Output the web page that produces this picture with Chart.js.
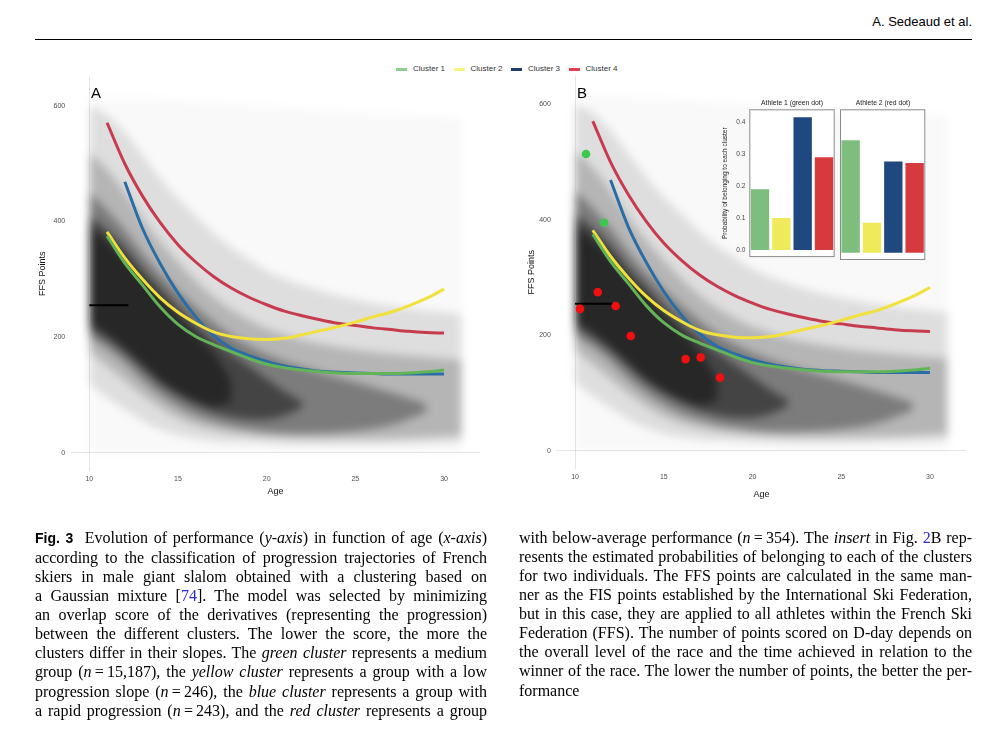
<!DOCTYPE html>
<html>
<head>
<meta charset="utf-8">
<script src="https://cdn.jsdelivr.net/npm/chart.js@4.4.1/dist/chart.umd.min.js"></script>
<style>
  body { margin: 0; width: 996px; height: 743px; background: #fff; position: relative; overflow: hidden;
         font-family: "Liberation Sans", Arial, sans-serif; color: #000; }
  .abs { position: absolute; }
  #runhead { left: 700px; width: 272px; top: 14px; text-align: right; font-size: 13px; }
  #rule { left: 35px; top: 39px; width: 937px; border-top: 1.5px solid #000; }
  .key { position: absolute; top: 68px; width: 11px; height: 3px; }
  .keytxt { position: absolute; top: 64px; font-size: 8px; color: #333; line-height: 10px; }
  .tag { position: absolute; top: 84px; font-size: 15px; }
  .itl { position: absolute; top: 98px; font-size: 6.8px; color: #222; text-align: center; width: 86px; line-height: 10px; }
  canvas { position: absolute; }
  canvas.cloud { filter: blur(4.5px); }
  .cap { position: absolute; top: 528px; font-family: "Liberation Serif", "Times New Roman", serif;
         font-size: 16px; line-height: 19.07px; }
  .cap div { text-align: justify; text-align-last: justify; }
  .cap div.last { text-align-last: left; }
  .fig { font-family: "Liberation Sans", Arial, sans-serif; font-weight: bold; font-size: 14px; }
  .lnk { color: #2b2bd0; }
</style>
</head>
<body>
<div id="runhead" class="abs">A. Sedeaud et al.</div>
<div id="rule" class="abs"></div>

<div id="legend"></div>

<canvas id="cloudA" class="cloud" width="460" height="450" style="left:30px; top:60px"></canvas>
<canvas id="cloudB" class="cloud" width="460" height="450" style="left:516px; top:60px"></canvas>
<canvas id="panelA" width="460" height="450" style="left:30px; top:60px"></canvas>
<canvas id="panelB" width="460" height="450" style="left:516px; top:60px"></canvas>
<canvas id="inset1" width="125" height="170" style="left:715px; top:95px"></canvas>
<canvas id="inset2" width="94" height="170" style="left:836px; top:95px"></canvas>
<div class="itl" style="left:749px">Athlete 1 (green dot)</div>
<div class="itl" style="left:840px">Athlete 2 (red dot)</div>

<div class="tag" style="left:91px">A</div>
<div class="tag" style="left:577px">B</div>

<div class="cap" style="left:35px; width:452px">
  <div><span class="fig">Fig. 3</span>&nbsp; Evolution of performance (<i>y-axis</i>) in function of age (<i>x-axis</i>)</div>
  <div>according to the classification of progression trajectories of French</div>
  <div>skiers in male giant slalom obtained with a clustering based on</div>
  <div>a Gaussian mixture [<span class="lnk">74</span>]. The model was selected by minimizing</div>
  <div>an overlap score of the derivatives (representing the progression)</div>
  <div>between the different clusters. The lower the score, the more the</div>
  <div>clusters differ in their slopes. The <i>green cluster</i> represents a medium</div>
  <div>group (<i>n</i>&thinsp;=&thinsp;15,187), the <i>yellow cluster</i> represents a group with a low</div>
  <div>progression slope (<i>n</i>&thinsp;=&thinsp;246), the <i>blue cluster</i> represents a group with</div>
  <div>a rapid progression (<i>n</i>&thinsp;=&thinsp;243), and the <i>red cluster</i> represents a group</div>
</div>
<div class="cap" style="left:519px; width:453px">
  <div>with below-average performance (<i>n</i>&thinsp;=&thinsp;354). The <i>insert</i> in Fig. <span class="lnk">2</span>B rep-</div>
  <div>resents the estimated probabilities of belonging to each of the clusters</div>
  <div>for two individuals. The FFS points are calculated in the same man-</div>
  <div>ner as the FIS points established by the International Ski Federation,</div>
  <div>but in this case, they are applied to all athletes within the French Ski</div>
  <div>Federation (FFS). The number of points scored on D-day depends on</div>
  <div>the overall level of the race and the time achieved in relation to the</div>
  <div>winner of the race. The lower the number of points, the better the per-</div>
  <div class="last">formance</div>
</div>

<script>
// values
const clusterNames = ['Cluster 1', 'Cluster 2', 'Cluster 3', 'Cluster 4'];
const ageTicks = [10, 15, 20, 25, 30];
const pointTicks = [0, 200, 400, 600];
const probTicks = [0, 0.1, 0.2, 0.3, 0.4];

// fitted trajectories (FFS points by age)
const curveAges = [11, 12, 13, 14, 15, 16, 17, 18, 19, 20, 21, 22, 23, 24, 25, 26, 27, 28, 29, 30];
const cluster1Points = [375, 328, 290, 252, 222, 201, 187, 175, 163, 153, 147, 143, 140, 138, 137, 137, 137, 138, 140, 143];
const cluster2Points = [382, 337, 300, 268, 243, 224, 209, 201, 197, 196, 198, 204, 211, 218, 226, 235, 243, 254, 267, 283];
const cluster3Points = [null, 469, 388, 327, 276, 235, 203, 181, 168, 158, 150, 145, 141, 139, 138, 137, 136, 136, 136, 136];
const cluster4Points = [571, 500, 444, 398, 360, 330, 305, 285, 269, 256, 245, 237, 230, 224, 220, 216, 213, 210, 208, 207];

// short black segment at the start
const segAges = [10, 12.2];
const segPoints = [255, 255];

// the scatter cloud, drawn as nested density bands (low / high edge), blurred afterwards
const haloAges = [10, 12, 15, 20, 25, 31];
const haloLow = [0, 0, 0, 0, 0, 0];
const haloHigh = [615, 615, 610, 600, 590, 580];
const bandAges = [10, 11, 12, 13, 14, 15, 16, 17, 18, 19, 20, 22, 25, 28, 31];
const outerLow = [120, 95, 75, 55, 40, 30, 24, 20, 18, 17, 16, 14, 14, 15, 18];
const outerHigh = [600, 585, 555, 515, 475, 440, 410, 380, 355, 335, 315, 290, 265, 250, 240];
const midLow = [175, 150, 125, 100, 78, 60, 48, 40, 34, 31, 28, 25, 24, 26, 30];
const midHigh = [520, 490, 450, 405, 365, 330, 298, 270, 248, 230, 215, 195, 178, 168, 160];
const innerAges = [10, 11, 12, 13, 14, 15, 16, 17, 18, 19, 20, 22, 25, 27, 29];
const innerLow = [200, 180, 155, 125, 100, 80, 64, 54, 46, 40, 36, 33, 38, 48, 70];
const innerHigh = [450, 420, 385, 345, 310, 280, 252, 226, 203, 185, 170, 148, 122, 104, 84];
const coreAges = [10, 11, 12, 13, 14, 15, 16, 17, 18, 19, 20, 21, 22];
const coreLow = [215, 195, 172, 145, 118, 98, 82, 70, 62, 58, 58, 64, 78];
const coreHigh = [410, 385, 355, 318, 285, 252, 222, 196, 172, 150, 128, 106, 88];
const deepAges = [10, 11, 12, 13, 14, 15, 16, 17, 18];
const deepLow = [225, 205, 180, 152, 125, 105, 90, 80, 88];
const deepHigh = [390, 365, 335, 300, 268, 235, 205, 172, 125];

// athletes highlighted in panel B
const greenDotAges = [10.62, 11.63];
const greenDotPoints = [514, 395];
const redDotAges = [10.28, 11.28, 12.29, 13.14, 16.23, 17.08, 18.17];
const redDotPoints = [246, 275, 251, 199, 159, 162, 127];

// insert: probability of belonging to each cluster
const athlete1Prob = [0.19, 0.10, 0.415, 0.29];
const athlete2Prob = [0.345, 0.092, 0.28, 0.275];

const curveColors = ['#62b557', '#f2e03c', '#2a6da6', '#c73b4e'];
const keyColors = ['#8ccf8c', '#f4f47c', '#1e3d6e', '#e2404f'];
const barColors = ['#7dbd7d', '#eeea5a', '#1f487f', '#d73a3c'];

// legend on top
var legendBox = document.getElementById('legend');
clusterNames.forEach(function(name, i) {
    var tx = 413 + 57.5 * i;
    var key = document.createElement('div');
    key.className = 'key';
    key.style.left = (tx - 17) + 'px';
    key.style.background = keyColors[i];
    legendBox.appendChild(key);
    var label = document.createElement('div');
    label.className = 'keytxt';
    label.style.left = tx + 'px';
    label.textContent = name;
    legendBox.appendChild(label);
});

function toXY(xs, ys) {
    var pts = [];
    xs.forEach(function(x, i) { if (ys[i] !== null) pts.push({ x: x, y: ys[i] }); });
    return pts;
}

function band(xs, low, high, color) {
    return [
        { data: toXY(xs, low), borderColor: 'rgba(0,0,0,0)', borderWidth: 0, pointRadius: 0, fill: false, tension: 0.35 },
        { data: toXY(xs, high), borderColor: 'rgba(0,0,0,0)', borderWidth: 0, pointRadius: 0, fill: '-1', backgroundColor: color, tension: 0.35 }
    ];
}

function curve(ys, color) {
    return { data: toXY(curveAges, ys), borderColor: color, borderWidth: 3, pointRadius: 0, fill: false,
             cubicInterpolationMode: 'monotone', order: 2 };
}

function dots(xs, ys, color) {
    return { data: toXY(xs, ys), showLine: false, pointRadius: 4.3, pointBorderWidth: 0,
             pointBackgroundColor: color, order: 0 };
}

function cloudDatasets() {
    return [].concat(
        band(haloAges, haloLow, haloHigh, 'rgba(0,0,0,0.025)'),
        band(bandAges, outerLow, outerHigh, 'rgba(0,0,0,0.11)'),
        band(bandAges, midLow, midHigh, 'rgba(0,0,0,0.19)'),
        band(innerAges, innerLow, innerHigh, 'rgba(0,0,0,0.32)'),
        band(coreAges, coreLow, coreHigh, 'rgba(0,0,0,0.45)'),
        band(deepAges, deepLow, deepHigh, 'rgba(0,0,0,0.45)')
    );
}

function panelDatasets(withDots) {
    var sets = [];
    sets.push({ data: toXY(segAges, segPoints), borderColor: '#000', borderWidth: 2, pointRadius: 0, fill: false, order: 5 });
    sets.push(curve(cluster1Points, curveColors[0]));
    sets.push(curve(cluster2Points, curveColors[1]));
    sets.push(curve(cluster3Points, curveColors[2]));
    sets.push(curve(cluster4Points, curveColors[3]));
    if (withDots) {
        sets.push(dots(greenDotAges, greenDotPoints, '#3cc850'));
        sets.push(dots(redDotAges, redDotPoints, '#f01010'));
    }
    return sets;
}

var tickFont = { family: 'Liberation Sans', size: 7 };
var titleFont = { family: 'Liberation Sans', size: 9 };

// hidden = same geometry, but no text or grid (used for the blurred cloud layer)
function panelOptions(g, hidden) {
    var txt = hidden ? 'rgba(0,0,0,0)' : '#4d4d4d';
    var ttl = hidden ? 'rgba(0,0,0,0)' : '#111';
    return {
        responsive: false,
        animation: false,
        events: [],
        layout: { padding: { left: 0, right: g.padRight, top: g.padTop, bottom: 0 } },
        plugins: { legend: { display: false }, tooltip: { enabled: false } },
        scales: {
            x: {
                type: 'linear', min: 8.95, max: 32.05,
                afterBuildTicks: function(s) { s.ticks = ageTicks.map(function(v) { return { value: v }; }); },
                afterFit: function(s) { s.height = g.xAxisH; },
                grid: { drawTicks: false, color: function(c) { return (!hidden && c.tick && c.tick.value === 10) ? 'rgba(180,180,180,0.35)' : 'rgba(0,0,0,0)'; } },
                border: { display: false },
                ticks: { padding: 4, color: txt, font: tickFont },
                title: { display: true, text: 'Age', color: ttl, font: titleFont, padding: { top: 0, bottom: g.xTitlePad } }
            },
            y: {
                type: 'linear', min: -31, max: 650,
                afterBuildTicks: function(s) { s.ticks = pointTicks.map(function(v) { return { value: v }; }); },
                afterFit: function(s) { s.width = g.yAxisW; },
                grid: { drawTicks: false, color: function(c) { return (!hidden && c.tick && c.tick.value === 0) ? 'rgba(180,180,180,0.35)' : 'rgba(0,0,0,0)'; } },
                border: { display: false },
                ticks: { padding: 5.5, color: txt, font: tickFont },
                title: { display: true, text: 'FFS Points', color: ttl, font: titleFont, padding: { top: g.yTitlePad, bottom: 0 } }
            }
        }
    };
}

var geomA = { padRight: 9.6, padTop: 17.1, xAxisH: 39.4, yAxisW: 40.7, xTitlePad: 12.6, yTitlePad: 7.6 };
var geomB = { padRight: 9.6, padTop: 15.4, xAxisH: 41.1, yAxisW: 40.4, xTitlePad: 9.6, yTitlePad: 10.3 };

new Chart(document.getElementById('cloudA'), { type: 'line', data: { datasets: cloudDatasets() }, options: panelOptions(geomA, true) });
new Chart(document.getElementById('cloudB'), { type: 'line', data: { datasets: cloudDatasets() }, options: panelOptions(geomB, true) });
new Chart(document.getElementById('panelA'), { type: 'line', data: { datasets: panelDatasets(false) }, options: panelOptions(geomA, false) });
new Chart(document.getElementById('panelB'), { type: 'line', data: { datasets: panelDatasets(true) }, options: panelOptions(geomB, false) });

// white panel with grey frame for the insert
var panelBox = {
    id: 'panelBox',
    beforeDraw: function(chart) {
        var a = chart.chartArea, ctx = chart.ctx;
        ctx.save();
        ctx.fillStyle = '#fff';
        ctx.fillRect(a.left, a.top, a.right - a.left, a.bottom - a.top);
        ctx.restore();
    },
    afterDraw: function(chart) {
        var a = chart.chartArea, ctx = chart.ctx;
        ctx.save();
        ctx.strokeStyle = '#8a8a8a';
        ctx.lineWidth = 1;
        ctx.strokeRect(a.left + 0.5, a.top + 0.5, a.right - a.left - 1, a.bottom - a.top - 1);
        ctx.restore();
    }
};

function insetOptions(showAxis, pad) {
    return {
        responsive: false,
        animation: false,
        events: [],
        layout: { padding: pad },
        plugins: { legend: { display: false }, tooltip: { enabled: false } },
        scales: {
            x: { display: false },
            y: {
                display: showAxis, min: -0.022, max: 0.44,
                afterBuildTicks: function(s) { s.ticks = probTicks.map(function(v) { return { value: v }; }); },
                afterFit: function(s) { if (showAxis) s.width = 34.3; },
                grid: { display: false, drawTicks: false },
                border: { display: false },
                ticks: { padding: 4, color: '#444', font: { family: 'Liberation Sans', size: 6.5 },
                         callback: function(v) { return Number(v).toFixed(1); } },
                title: { display: true, text: 'Probability of belonging to each cluster', color: '#222',
                         font: { family: 'Liberation Sans', size: 6.5 }, padding: { top: 6, bottom: 0 } }
            }
        }
    };
}

new Chart(document.getElementById('inset1'), {
    type: 'bar',
    data: { labels: clusterNames, datasets: [{ data: athlete1Prob, backgroundColor: barColors, borderWidth: 0,
            barPercentage: 0.86, categoryPercentage: 1 }] },
    options: insetOptions(true, { left: 0, right: 5.3, top: 14.3, bottom: 5 }),
    plugins: [panelBox]
});

new Chart(document.getElementById('inset2'), {
    type: 'bar',
    data: { labels: clusterNames, datasets: [{ data: athlete2Prob, backgroundColor: barColors, borderWidth: 0,
            barPercentage: 0.86, categoryPercentage: 1 }] },
    options: insetOptions(false, { left: 4, right: 4.7, top: 14.3, bottom: 5 }),
    plugins: [panelBox]
});
</script>
</body>
</html>
